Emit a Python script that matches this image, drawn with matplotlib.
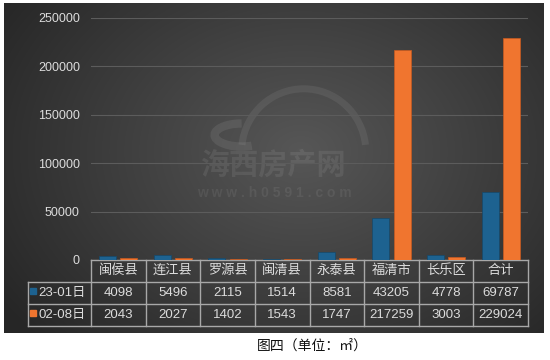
import matplotlib
matplotlib.use("Agg")
import matplotlib.pyplot as plt
import matplotlib.transforms as mtransforms
from matplotlib.patches import Arc
import numpy as np

plt.rcParams['font.family'] = ['Liberation Sans', 'Noto Sans CJK SC', 'DejaVu Sans']

# dados do gráfico
categorias = ["闽侯县", "连江县", "罗源县", "闽清县", "永泰县", "福清市", "长乐区", "合计"]
serie_a = [4098, 5496, 2115, 1514, 8581, 43205, 4778, 69787]
serie_b = [2043, 2027, 1402, 1543, 1747, 217259, 3003, 229024]
nomes = ["23-01日", "02-08日"]
yticks = [0, 50000, 100000, 150000, 200000, 250000]

COR_A = "#1d6290"
COR_B = "#f0752f"
TXT = "#dcdcdc"
LINHA = "#a8a8a8"

W, H = 550, 360
fig = plt.figure(figsize=(W / 100, H / 100), dpi=100)
fig.patch.set_facecolor("white")

# painel escuro com gradiente radial
bg = fig.add_axes([4 / W, (H - 333) / H, 540 / W, 330 / H])
yy, xx = np.mgrid[0:1:200j, 0:1:300j]
r = np.sqrt(((xx - 0.55) / 0.6) ** 2 + ((yy - 0.45) / 0.75) ** 2)
g = np.clip(0.34 - 0.17 * r, 0.15, 0.34)
bg.imshow(np.dstack([g, g, g]), aspect="auto", extent=[0, 1, 0, 1], interpolation="bilinear")
bg.set_xlim(0, 1)
bg.set_ylim(0, 1)
bg.set_axis_off()

# marca d'água
bg.text(0.5, 0.51, "海西房产网", color="#ffffff", alpha=0.08, fontsize=21,
        fontweight="bold", ha="center", va="center", family=['Noto Sans CJK SC'])
bg.text(0.5, 0.425, "w w w . h 0 5 9 1 . c o m", color="#ffffff", alpha=0.07,
        fontsize=10, fontweight="bold", ha="center", va="center")
bg.add_patch(Arc((0.555, 0.55), 0.23, 0.38, theta1=10, theta2=170,
                 color="#ffffff", alpha=0.07, linewidth=5))
bg.add_patch(Arc((0.44, 0.6), 0.1, 0.07, theta1=90, theta2=300,
                 color="#ffffff", alpha=0.08, linewidth=6))

ax = fig.add_axes([91 / W, (H - 260) / H, 437 / W, 242 / H])
ax.patch.set_alpha(0)
x = np.arange(len(categorias))
bw = 0.31
ax.bar(x - 0.195, serie_a, bw, color=COR_A, edgecolor="#15496b", linewidth=0.5, zorder=3)
ax.bar(x + 0.195, serie_b, bw, color=COR_B, edgecolor="#c85a20", linewidth=0.5, zorder=3)
ax.set_xlim(-0.5, len(categorias) - 0.5)
ax.set_ylim(0, 250000)
ax.set_yticks(yticks)
ax.set_yticklabels([str(v) for v in yticks], color=TXT, fontsize=9)
ax.tick_params(axis="y", length=0, pad=8)
ax.set_xticks([])
for s in ax.spines.values():
    s.set_visible(False)
ax.grid(axis="y", color="#5c5c5c", linewidth=0.8, zorder=0)

# tabela de dados abaixo do eixo
tr = mtransforms.blended_transform_factory(ax.transData, ax.transAxes)
h1, h2, h3 = -22 / 242, -44 / 242, -66 / 242
xleg = -0.5 - 63 / 54.6
xr = len(categorias) - 0.5
kw = dict(transform=tr, color=LINHA, linewidth=1, clip_on=False)
ax.plot([-0.5, xr], [0, 0], **kw)
for yl in (h1, h2, h3):
    ax.plot([xleg, xr], [yl, yl], **kw)
for i in range(len(categorias) + 1):
    ax.plot([i - 0.5, i - 0.5], [0, h3], **kw)
ax.plot([xleg, xleg], [h1, h3], **kw)

fs = 9.5
for i, c in enumerate(categorias):
    ax.text(i, h1 / 2, c, transform=tr, ha="center", va="center", color=TXT, fontsize=fs)
    ax.text(i, (h1 + h2) / 2, str(serie_a[i]), transform=tr, ha="center", va="center",
            color=TXT, fontsize=fs)
    ax.text(i, (h2 + h3) / 2, str(serie_b[i]), transform=tr, ha="center", va="center",
            color=TXT, fontsize=fs)

for nome, cor, yc in [(nomes[0], COR_A, (h1 + h2) / 2), (nomes[1], COR_B, (h2 + h3) / 2)]:
    ax.plot([xleg + 0.1], [yc + 0.01], marker="s", markersize=4, color=cor,
            transform=tr, clip_on=False)
    ax.text(xleg + 0.19, yc, nome, transform=tr, ha="left", va="center",
            color=TXT, fontsize=fs)

fig.text(257 / W, (H - 346) / H, "图四（单位：㎡）", ha="left", va="center",
         fontsize=10, color="#111111", family=['Noto Sans CJK SC', 'DejaVu Sans'])

fig.savefig("out.png", dpi=100)
